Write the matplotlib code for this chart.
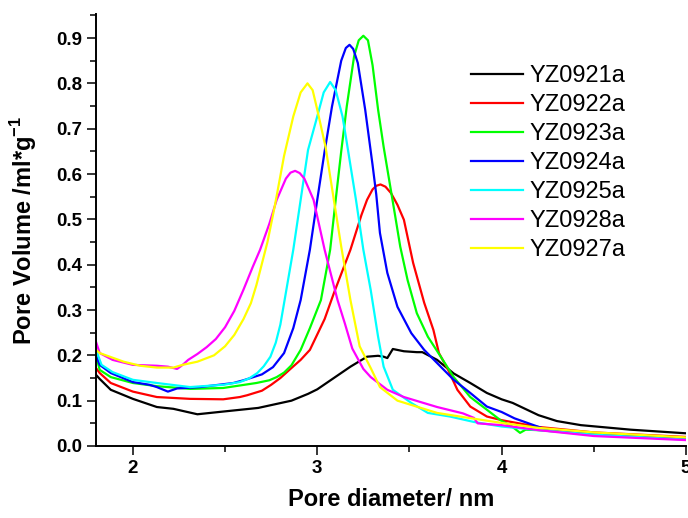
import numpy as np
import matplotlib
matplotlib.use('Agg')
import matplotlib.pyplot as plt
from matplotlib.ticker import MultipleLocator

plt.rcParams['font.family'] = ['Liberation Sans', 'DejaVu Sans']
plt.rcParams['mathtext.fontset'] = 'custom'
plt.rcParams['mathtext.rm'] = 'Liberation Sans'
plt.rcParams['mathtext.bf'] = 'Liberation Sans:bold'

# YZ0921a
x_21 = [1.80, 1.82, 1.88, 2.00, 2.13, 2.22, 2.35, 2.49, 2.68, 2.86, 2.95, 3.00, 3.09, 3.18, 3.27,
        3.33, 3.36, 3.38, 3.41, 3.47, 3.54, 3.57, 3.65, 3.74, 3.83, 3.92, 4.00, 4.06, 4.20, 4.30, 4.43, 4.70, 5.00]
y_21 = [0.157, 0.148, 0.124, 0.104, 0.086, 0.082, 0.070, 0.076, 0.084, 0.100, 0.115, 0.125, 0.150, 0.175, 0.197,
        0.199, 0.197, 0.194, 0.214, 0.209, 0.207, 0.207, 0.190, 0.160, 0.139, 0.117, 0.103, 0.095, 0.068, 0.055, 0.046, 0.036, 0.028]
# YZ0922a
x_22 = [1.80, 1.82, 1.88, 2.00, 2.13, 2.31, 2.49, 2.58, 2.62, 2.70, 2.75, 2.80, 2.86, 2.91, 2.96, 3.04, 3.09, 3.18, 3.24, 3.27,
        3.30, 3.32, 3.343, 3.37, 3.40, 3.435, 3.47, 3.52, 3.58, 3.63, 3.66, 3.71, 3.76, 3.83, 3.92, 4.00, 4.20, 4.50, 5.00]
y_22 = [0.172, 0.161, 0.139, 0.120, 0.108, 0.104, 0.103, 0.108, 0.112, 0.122, 0.135, 0.150, 0.172, 0.190, 0.212, 0.280, 0.337, 0.433, 0.510, 0.543,
        0.566, 0.574, 0.577, 0.572, 0.558, 0.532, 0.499, 0.404, 0.316, 0.256, 0.205, 0.168, 0.124, 0.087, 0.065, 0.057, 0.042, 0.030, 0.020]
# YZ0923a
x_23 = [1.80, 1.82, 1.88, 2.00, 2.13, 2.31, 2.49, 2.67, 2.74, 2.78, 2.82, 2.86, 2.91, 2.96, 3.02, 3.07, 3.10, 3.13, 3.16, 3.20,
        3.225, 3.25, 3.275, 3.30, 3.33, 3.36, 3.39, 3.42, 3.45, 3.49, 3.54, 3.60, 3.67, 3.74, 3.83, 3.92, 4.00,
        4.05, 4.10, 4.13, 4.20, 4.50, 5.00]
y_23 = [0.200, 0.168, 0.152, 0.139, 0.132, 0.126, 0.128, 0.139, 0.145, 0.152, 0.162, 0.178, 0.212, 0.260, 0.322, 0.433, 0.543, 0.650, 0.749, 0.860,
        0.895, 0.905, 0.895, 0.840, 0.742, 0.660, 0.587, 0.514, 0.440, 0.366, 0.293, 0.241, 0.197, 0.152, 0.108, 0.080, 0.055,
        0.045, 0.029, 0.036, 0.035, 0.025, 0.015]
# YZ0924a
x_24 = [1.80, 1.82, 1.88, 2.00, 2.09, 2.13, 2.19, 2.24, 2.365, 2.545, 2.60, 2.70, 2.76, 2.82, 2.87, 2.91, 2.96, 3.00, 3.04, 3.08, 3.13,
        3.155, 3.175, 3.195, 3.22, 3.26, 3.30, 3.32, 3.34, 3.38, 3.435, 3.51, 3.58, 3.65, 3.74, 3.83, 3.92, 4.00,
        4.07, 4.25, 4.50, 5.00]
y_24 = [0.200, 0.179, 0.161, 0.141, 0.135, 0.130, 0.120, 0.127, 0.130, 0.139, 0.145, 0.158, 0.174, 0.205, 0.260, 0.322, 0.433, 0.543, 0.650, 0.749, 0.850,
        0.878, 0.885, 0.876, 0.845, 0.742, 0.620, 0.555, 0.470, 0.382, 0.307, 0.249, 0.212, 0.183, 0.146, 0.117, 0.087, 0.075,
        0.061, 0.035, 0.025, 0.015]
# YZ0925a
x_25 = [1.80, 1.83, 1.89, 2.00, 2.13, 2.31, 2.49, 2.58, 2.63, 2.675, 2.71, 2.746, 2.775, 2.80, 2.82, 2.87, 2.91, 2.95, 3.00, 3.035, 3.07,
        3.10, 3.137, 3.16, 3.21, 3.25, 3.29, 3.33, 3.36, 3.41, 3.51, 3.60, 3.72, 3.85, 4.00, 4.20, 4.50, 5.00]
y_25 = [0.212, 0.179, 0.163, 0.146, 0.139, 0.130, 0.135, 0.141, 0.149, 0.161, 0.176, 0.197, 0.228, 0.268, 0.315, 0.433, 0.543, 0.653, 0.727, 0.780, 0.803,
        0.785, 0.727, 0.670, 0.543, 0.433, 0.344, 0.241, 0.175, 0.124, 0.095, 0.073, 0.065, 0.053, 0.043, 0.035, 0.025, 0.014]
# YZ0928a
x_28 = [1.80, 1.82, 1.89, 2.00, 2.13, 2.19, 2.24, 2.27, 2.30, 2.35, 2.40, 2.45, 2.50, 2.55, 2.60, 2.65, 2.69, 2.74, 2.78, 2.83, 2.855,
        2.88, 2.905, 2.93, 2.98, 3.04, 3.11, 3.15, 3.19, 3.25, 3.29, 3.38, 3.47, 3.65, 3.79, 3.85, 3.87, 4.00, 4.20, 4.50, 5.00]
y_28 = [0.230, 0.205, 0.190, 0.179, 0.177, 0.175, 0.170, 0.179, 0.190, 0.203, 0.218, 0.236, 0.262, 0.298, 0.345, 0.395, 0.433, 0.490, 0.543, 0.590, 0.603,
        0.607, 0.602, 0.590, 0.543, 0.433, 0.322, 0.270, 0.215, 0.170, 0.152, 0.124, 0.108, 0.086, 0.072, 0.062, 0.050, 0.046, 0.035, 0.022, 0.013]
# YZ0927a
x_27 = [1.80, 1.82, 1.95, 2.04, 2.13, 2.22, 2.27, 2.35, 2.44, 2.50, 2.55, 2.60, 2.64, 2.67, 2.73, 2.77, 2.82, 2.87, 2.91, 2.947,
        2.975, 3.00, 3.045, 3.09, 3.13, 3.18, 3.23, 3.29, 3.34, 3.435, 3.65, 3.82, 4.00, 4.20, 4.50, 5.00]
y_27 = [0.212, 0.205, 0.186, 0.177, 0.173, 0.173, 0.179, 0.186, 0.200, 0.220, 0.245, 0.280, 0.315, 0.355, 0.450, 0.530, 0.640, 0.727, 0.780, 0.800,
        0.785, 0.742, 0.660, 0.543, 0.440, 0.322, 0.220, 0.172, 0.130, 0.100, 0.073, 0.062, 0.051, 0.040, 0.030, 0.019]

series = [('YZ0921a', x_21, y_21, '#000000'),
          ('YZ0922a', x_22, y_22, '#ff0000'),
          ('YZ0923a', x_23, y_23, '#00ff00'),
          ('YZ0924a', x_24, y_24, '#0000ff'),
          ('YZ0925a', x_25, y_25, '#00ffff'),
          ('YZ0928a', x_28, y_28, '#ff00ff'),
          ('YZ0927a', x_27, y_27, '#ffff00')]

fig = plt.figure(figsize=(6.88, 5.18), dpi=100)
ax = fig.add_axes([96/688, 72/518, 590/688, 432/518])

for name, xs, ys, c in series:
    ax.plot(xs, ys, color=c, lw=1.6, label=name, solid_joinstyle='round')

ax.set_xlim(1.8, 5.0)
ax.set_ylim(0, 0.953)
ax.xaxis.set_major_locator(MultipleLocator(1))
ax.xaxis.set_minor_locator(MultipleLocator(0.5))
ax.yaxis.set_major_locator(MultipleLocator(0.1))
ax.yaxis.set_minor_locator(MultipleLocator(0.05))
ax.spines['top'].set_visible(False)
ax.spines['right'].set_visible(False)
for s in ['left', 'bottom']:
    ax.spines[s].set_linewidth(1.4)
ax.tick_params(which='major', direction='out', length=6.5, width=1.1, labelsize=13.5)
ax.tick_params(which='minor', direction='out', length=4, width=1.1)
for lab in ax.get_xticklabels() + ax.get_yticklabels():
    lab.set_fontweight('bold')

ax.set_xlabel('Pore diameter/ nm', fontsize=17, fontweight='bold', labelpad=8)
ax.set_ylabel(r'Pore Volume /ml*g$^{\mathbf{-1}}$', fontsize=17, fontweight='bold', labelpad=12)

leg = ax.legend(loc='upper left', bbox_to_anchor=(0.636, 0.882), frameon=False, fontsize=17,
                borderpad=0, borderaxespad=0, handlelength=2.2, handletextpad=0.25, labelspacing=0.3)

fig.savefig('out.png', dpi=100)
